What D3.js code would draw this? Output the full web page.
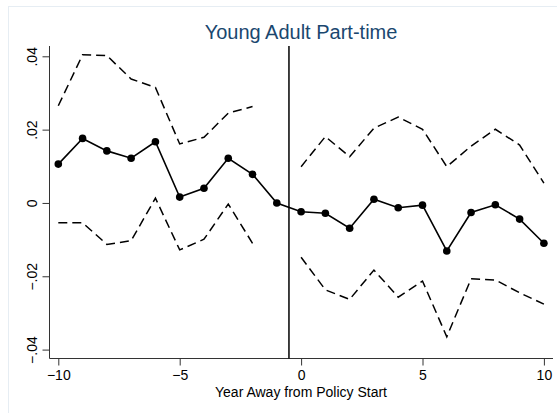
<!DOCTYPE html>
<html>
<head>
<meta charset="utf-8">
<script src="https://cdn.jsdelivr.net/npm/d3@7"></script>
<style>
  html, body { margin: 0; padding: 0; background: #fff; }
  svg { display: block; font-family: "Liberation Sans", Arial, sans-serif; }
</style>
</head>
<body>
<div id="chart"></div>
<script>
// --- data ---
const years = d3.range(-10, 11);
const estimate = [0.0106, 0.0176, 0.0142, 0.0122, 0.0167, 0.0016, 0.0040, 0.0122, 0.0078, 0.0000,
                  -0.0024, -0.0028, -0.0069, 0.0010, -0.0013, -0.0006, -0.0131, -0.0026, -0.0005, -0.0044, -0.0110];
const preYears = d3.range(-10, -1);
const preUpper = [0.0265, 0.0404, 0.0402, 0.0338, 0.0315, 0.0161, 0.0179, 0.0245, 0.0263];
const preLower = [-0.0054, -0.0054, -0.0113, -0.0103, 0.0013, -0.0128, -0.0099, -0.0003, -0.0110];
const postYears = d3.range(0, 11);
const postUpper = [0.0099, 0.0181, 0.0126, 0.0204, 0.0234, 0.0201, 0.0099, 0.0155, 0.0201, 0.0158, 0.0054];
const postLower = [-0.0148, -0.0237, -0.0263, -0.0183, -0.0257, -0.0213, -0.0365, -0.0207, -0.0210, -0.0245, -0.0276];
const xTicks = [-10, -5, 0, 5, 10];
const yTicks = [-0.04, -0.02, 0, 0.02, 0.04];
const policyLine = -0.5;

const W = 557, H = 413;
const svg = d3.select("#chart").append("svg")
  .attr("width", W)
  .attr("height", H);

// graph region frame
svg.append("rect")
  .attr("x", 8.5).attr("y", 6.5)
  .attr("width", W).attr("height", H)
  .attr("fill", "#fff")
  .attr("stroke", "#e6edf3");

// --- scales ---
const x = d3.scaleLinear().domain([-10, 10]).range([58.3, 543.9]);
const y = d3.scaleLinear().domain([-0.04, 0.04]).range([349.6, 56.3]);

const plotLeft = 49.5, plotBottom = 358.5, plotTop = 46, plotRight = 553;

// title
svg.append("text")
  .attr("x", 301).attr("y", 39)
  .attr("text-anchor", "middle")
  .attr("fill", "#1a476f")
  .style("font-size", "20px")
  .text("Young Adult Part-time");

// --- axes ---
const yAxis = svg.append("g")
  .attr("transform", `translate(${plotLeft},0)`)
  .call(d3.axisLeft(y).tickValues(yTicks).tickSize(7).tickPadding(4)
    .tickFormat(d => d === 0 ? "0" : d3.format(".2f")(d).replace("0.", ".")));
yAxis.select(".domain").attr("d", `M0,${plotTop}V${plotBottom}`).attr("stroke", "#333");
yAxis.selectAll(".tick line").attr("stroke", "#333");
yAxis.selectAll(".tick text")
  .attr("x", null).attr("dy", null)
  .attr("transform", "translate(-13,0) rotate(-90)")
  .attr("text-anchor", "middle")
  .attr("fill", "#000")
  .style("font-size", "14px");

const xAxis = svg.append("g")
  .attr("transform", `translate(0,${plotBottom})`)
  .call(d3.axisBottom(x).tickValues(xTicks).tickSize(7).tickPadding(5));
xAxis.select(".domain").attr("d", `M${plotLeft},0H${plotRight}`).attr("stroke", "#333");
xAxis.selectAll(".tick line").attr("stroke", "#333");
xAxis.selectAll(".tick text").attr("fill", "#000").style("font-size", "14px");

svg.append("text")
  .attr("x", 301).attr("y", 396.5)
  .attr("text-anchor", "middle")
  .style("font-size", "14px")
  .text("Year Away from Policy Start");

// policy start line
svg.append("line")
  .attr("x1", x(policyLine)).attr("x2", x(policyLine))
  .attr("y1", plotTop).attr("y2", plotBottom)
  .attr("stroke", "#000")
  .attr("stroke-width", 1.5);

// --- confidence bands (dashed) ---
const line = d3.line().x(d => x(d[0])).y(d => y(d[1]));
const bands = [
  d3.zip(preYears, preUpper), d3.zip(preYears, preLower),
  d3.zip(postYears, postUpper), d3.zip(postYears, postLower)
];
svg.selectAll(".band")
  .data(bands)
  .join("path")
  .attr("class", "band")
  .attr("d", line)
  .attr("fill", "none")
  .attr("stroke", "#000")
  .attr("stroke-width", 1.5)
  .attr("stroke-dasharray", "9,5");

// --- point estimates ---
const est = d3.zip(years, estimate);
svg.append("path")
  .attr("d", line(est))
  .attr("fill", "none")
  .attr("stroke", "#000")
  .attr("stroke-width", 1.6);

svg.selectAll(".pt")
  .data(est)
  .join("circle")
  .attr("class", "pt")
  .attr("cx", d => x(d[0]))
  .attr("cy", d => y(d[1]))
  .attr("r", 3.8)
  .attr("fill", "#000");
</script>
</body>
</html>
